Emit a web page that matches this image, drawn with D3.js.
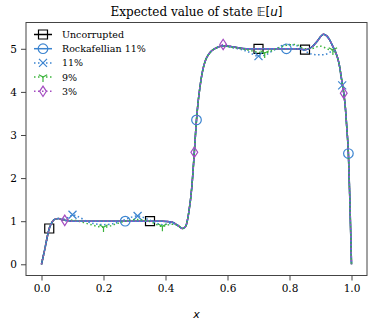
<!DOCTYPE html>
<html><head><meta charset="utf-8">
<script src="https://cdn.jsdelivr.net/npm/d3@7"></script>
<style>body{margin:0;background:#fff}svg{display:block}</style>
</head><body><svg id="c" width="374" height="322"></svg>
<script>
const xGrid = [0,0.01,0.025,0.035,0.045,0.055,0.065,0.075,0.09,0.1,0.12,0.15,0.2,0.25,0.27,0.31,0.35,0.39,0.42,0.44,0.455,0.465,0.475,0.485,0.493,0.5,0.505,0.51,0.52,0.53,0.54,0.55,0.57,0.586,0.62,0.66,0.7,0.72,0.75,0.79,0.82,0.85,0.87,0.89,0.9,0.91,0.92,0.93,0.94,0.95,0.96,0.97,0.975,0.98,0.985,0.99,0.995,1.0];
const yUncorrupted = [0,0.33,0.83,0.99,1.05,1.06,1.04,1.02,1.01,1.0,1.0,1.0,1.0,1.0,1.0,1.0,1.0,1.0,0.98,0.9,0.83,0.88,1.2,1.8,2.6,3.35,3.75,4.05,4.5,4.75,4.88,4.96,5.04,5.07,5.04,5.0,5.0,5.0,5.0,5.0,5.0,4.98,5.03,5.18,5.28,5.34,5.3,5.2,5.05,4.9,4.65,4.2,3.97,3.65,3.15,2.57,1.4,0];
const yRockafellian = [0,0.33,0.83,0.99,1.05,1.06,1.04,1.02,1.01,1.0,1.0,1.0,1.0,1.0,1.0,1.0,1.0,1.0,0.98,0.9,0.83,0.88,1.2,1.8,2.6,3.35,3.75,4.05,4.5,4.75,4.88,4.96,5.04,5.07,5.04,5.0,5.0,5.0,5.0,5.0,5.0,4.98,5.03,5.18,5.28,5.34,5.3,5.2,5.05,4.9,4.65,4.2,3.97,3.65,3.15,2.57,1.4,0];
const y11 = [0,0.33,0.83,0.99,1.05,1.06,1.05,1.06,1.1,1.15,1.1,0.98,0.92,0.98,1.04,1.12,1.02,0.92,0.95,0.9,0.83,0.88,1.2,1.8,2.6,3.35,3.75,4.05,4.5,4.75,4.88,4.96,5.04,5.06,5.02,4.95,4.83,4.85,4.97,5.1,5.08,4.95,4.88,4.86,4.86,4.86,4.88,4.92,4.95,4.88,4.65,4.15,3.97,3.65,3.15,2.57,1.4,0];
const y9 = [0,0.33,0.83,0.99,1.05,1.06,1.04,1.02,1.02,1.03,1.0,0.94,0.86,0.96,1.0,1.04,0.99,0.88,0.93,0.9,0.83,0.88,1.2,1.8,2.6,3.35,3.75,4.05,4.5,4.75,4.88,4.96,5.04,5.06,5.03,4.98,4.92,4.9,4.98,5.08,5.1,5.0,5.0,5.05,5.06,5.04,5.0,4.98,4.97,4.88,4.65,4.2,3.97,3.65,3.15,2.57,1.4,0];
const y3 = [0,0.33,0.83,0.99,1.05,1.06,1.04,1.02,1.01,1.0,1.0,1.0,1.0,1.0,1.0,1.0,1.0,1.0,0.98,0.9,0.83,0.88,1.2,1.8,2.6,3.35,3.75,4.05,4.5,4.75,4.88,4.96,5.04,5.1,5.04,5.0,5.0,5.0,5.0,5.0,5.0,4.98,5.03,5.18,5.28,5.34,5.3,5.2,5.05,4.9,4.65,4.2,3.97,3.65,3.15,2.57,1.4,0];
const seriesNames = ["Uncorrupted","Rockafellian 11%","11%","9%","3%"];
const markerX = [[0.025,0.35,0.7,0.85],[0.27,0.5,0.79,0.99],[0.1,0.31,0.7,0.97],[0.2,0.39,0.72,0.94],[0.075,0.493,0.586,0.975]];
const xTicks = [0,0.2,0.4,0.6,0.8,1.0];
const yTicks = [0,1,2,3,4,5];

const styles = [
  {color:"#000000", dash:null, marker:"square"},
  {color:"#3b84d0", dash:null, marker:"circle"},
  {color:"#3b84d0", dash:"1.5,2.5", marker:"x"},
  {color:"#3cb43c", dash:"1.5,2.5", marker:"tri"},
  {color:"#a44cc0", dash:"1.5,2.5", marker:"diamond"}
];
const allY = [yUncorrupted,yRockafellian,y11,y9,y3];

const svg = d3.select("#c");
const L=26,R=367,T=22.5,B=275.5;
const x = d3.scaleLinear().domain([-0.05,1.05]).range([L,R]);
const y = d3.scaleLinear().domain([-0.26,5.61]).range([B,T]);
const serif = "DejaVu Serif";

function markerPath(type){
  switch(type){
    case "square": return "M-4.5,-4.5H4.5V4.5H-4.5Z";
    case "circle": return d3.arc()({innerRadius:0,outerRadius:4.8,startAngle:0,endAngle:2*Math.PI});
    case "x": return "M-4,-4L4,4M-4,4L4,-4";
    case "tri": return "M0,0L0,4.8M0,0L-4.2,-2.4M0,0L4.2,-2.4";
    case "diamond": return "M0,-5.2L3.4,0L0,5.2L-3.4,0Z";
  }
}

const line = d3.line().x(d=>x(d[0])).y(d=>y(d[1])).curve(d3.curveMonotoneX);
const plot = svg.append("g");
allY.forEach((ys,i)=>{
  const pts = xGrid.map((xv,k)=>[xv,ys[k]]);
  const st = styles[i];
  plot.append("path").attr("d",line(pts)).attr("fill","none").attr("stroke",st.color)
    .attr("stroke-width",1.5).attr("stroke-dasharray",st.dash);
  markerX[i].forEach(mx=>{
    const k = xGrid.indexOf(mx);
    plot.append("path").attr("d",markerPath(st.marker))
      .attr("transform",`translate(${x(mx)},${y(ys[k])})`)
      .attr("fill","none").attr("stroke",st.color).attr("stroke-width",1.2);
  });
});

// spines
svg.append("rect").attr("x",L).attr("y",T).attr("width",R-L).attr("height",B-T)
  .attr("fill","none").attr("stroke","#444").attr("stroke-width",1);

const xa = svg.append("g").attr("transform",`translate(0,${B})`)
  .call(d3.axisBottom(x).tickValues(xTicks).tickFormat(d3.format(".1f")).tickSize(5).tickPadding(4));
const ya = svg.append("g").attr("transform",`translate(${L},0)`)
  .call(d3.axisLeft(y).tickValues(yTicks).tickFormat(d3.format("d")).tickSize(5).tickPadding(4));
[xa,ya].forEach(a=>{
  a.select(".domain").remove();
  a.selectAll("line").attr("stroke","#444");
  a.selectAll("text").attr("font-family",serif).attr("font-size",10.5).attr("fill","#000");
});

// title
const title = svg.append("text").attr("x",(L+R)/2).attr("y",16).attr("text-anchor","middle")
  .attr("font-family",serif).attr("font-size",12).attr("fill","#000");
title.append("tspan").text("Expected value of state ");
title.append("tspan").attr("font-family","DejaVu Sans").text("𝔼[");
title.append("tspan").attr("font-family","DejaVu Sans").attr("font-style","italic").text("u");
title.append("tspan").attr("font-family","DejaVu Sans").text("]");

// x label
svg.append("text").attr("x",(L+R)/2).attr("y",318).attr("text-anchor","middle")
  .attr("font-family","DejaVu Sans").attr("font-style","italic").attr("font-size",11).text("x");

// legend
const lg = svg.append("g");
seriesNames.forEach((n,i)=>{
  const yy = 34.5 + i*14.2;
  const st = styles[i];
  lg.append("line").attr("x1",34).attr("x2",52).attr("y1",yy).attr("y2",yy)
    .attr("stroke",st.color).attr("stroke-width",1.5).attr("stroke-dasharray",st.dash);
  lg.append("path").attr("d",markerPath(st.marker)).attr("transform",`translate(43,${yy})`)
    .attr("fill","none").attr("stroke",st.color).attr("stroke-width",1.2);
  lg.append("text").attr("x",62).attr("y",yy+3.5).attr("font-family",serif).attr("font-size",9.5).text(n);
});
</script></body></html>
